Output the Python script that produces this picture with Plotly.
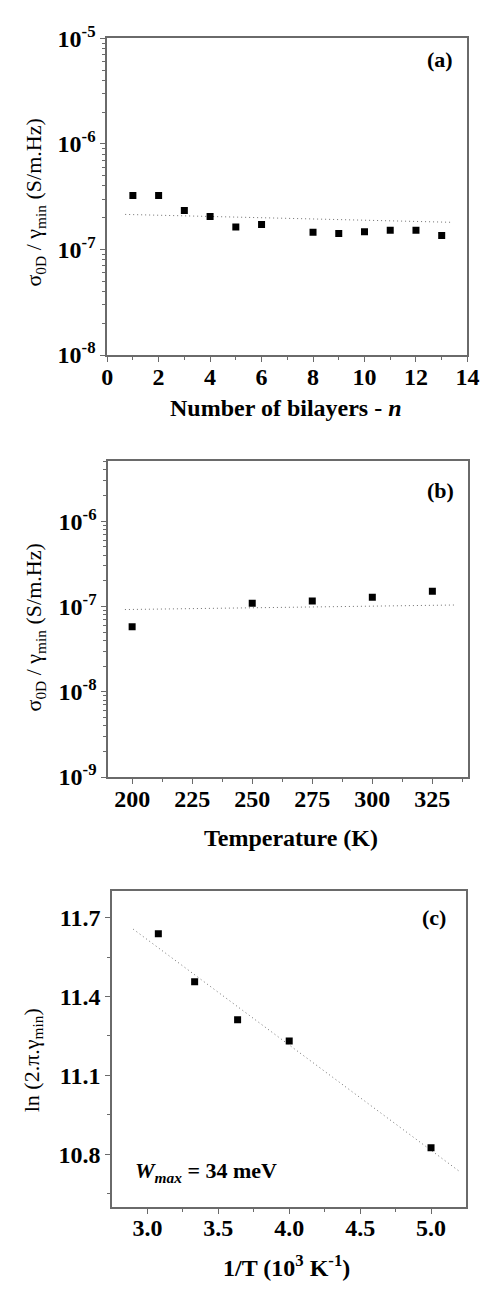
import plotly.graph_objects as go

W, H = 491, 1298
SERIF = "Liberation Serif"

# (a) sigma_0D / gamma_min versus number of bilayers
bilayers = [1, 2, 3, 4, 5, 6, 8, 9, 10, 11, 12, 13]
sigma_bilayers = [3.25e-7, 3.25e-7, 2.34e-7, 2.06e-7, 1.63e-7, 1.73e-7,
                  1.46e-7, 1.42e-7, 1.47e-7, 1.52e-7, 1.52e-7, 1.36e-7]
fit_a_x = [0.7, 13.4]
fit_a_y = [2.15e-7, 1.81e-7]

# (b) sigma_0D / gamma_min versus temperature
temperature = [200, 250, 275, 300, 325]
sigma_temperature = [5.8e-8, 1.09e-7, 1.16e-7, 1.28e-7, 1.51e-7]
fit_b_x = [197, 334.4]
fit_b_y = [9.2e-8, 1.04e-7]

# (c) Arrhenius plot of ln(2.pi.gamma_min)
inv_t = [3.077, 3.333, 3.636, 4.0, 5.0]
ln_gamma = [11.639, 11.456, 11.312, 11.231, 10.825]
fit_c_x = [2.90, 5.20]
fit_c_y = [11.656, 10.735]

log_major_a = [1e-8, 1e-7, 1e-6, 1e-5]
log_labels_a = ["10<sup>-8</sup>", "10<sup>-7</sup>", "10<sup>-6</sup>", "10<sup>-5</sup>"]
log_major_b = [1e-9, 1e-8, 1e-7, 1e-6]
log_labels_b = ["10<sup>-9</sup>", "10<sup>-8</sup>", "10<sup>-7</sup>", "10<sup>-6</sup>"]


def log_minor(lo_exp, hi_exp, top=None):
    vals = []
    for e in range(lo_exp, hi_exp):
        for m in range(2, 10):
            v = m * 10 ** e
            if top is None or v <= top:
                vals.append(v)
    return vals


def xdom(l, r):
    return [l / W, r / W]


def ydom(t, b):
    return [1 - b / H, 1 - t / H]


AX_COLOR = "#6a6a6a"
common = dict(
    showline=True, linecolor=AX_COLOR, linewidth=1.5, mirror=True,
    ticks="outside", ticklen=5, tickwidth=1.2, tickcolor=AX_COLOR,
    showgrid=False, zeroline=False,
    tickfont=dict(family=SERIF, size=24, color="black", weight="bold"),
)
xcommon = dict(common, ticklabelstandoff=-6)
minor_style = dict(ticks="outside", ticklen=3, tickwidth=1, tickcolor=AX_COLOR, showgrid=False)

marker = dict(symbol="square", size=7, color="black")
fit_line = dict(color="#707070", width=1, dash="1px,3px")

fig = go.Figure()

fig.add_trace(go.Scatter(x=fit_a_x, y=fit_a_y, mode="lines", line=fit_line, xaxis="x", yaxis="y"))
fig.add_trace(go.Scatter(x=bilayers, y=sigma_bilayers, mode="markers", marker=marker, xaxis="x", yaxis="y"))

fig.add_trace(go.Scatter(x=fit_b_x, y=fit_b_y, mode="lines", line=fit_line, xaxis="x2", yaxis="y2"))
fig.add_trace(go.Scatter(x=temperature, y=sigma_temperature, mode="markers", marker=marker, xaxis="x2", yaxis="y2"))

fig.add_trace(go.Scatter(x=fit_c_x, y=fit_c_y, mode="lines", line=fit_line, xaxis="x3", yaxis="y3"))
fig.add_trace(go.Scatter(x=inv_t, y=ln_gamma, mode="markers", marker=marker, xaxis="x3", yaxis="y3"))

fig.update_layout(
    width=W, height=H, margin=dict(l=0, r=0, t=0, b=0),
    paper_bgcolor="white", plot_bgcolor="white", showlegend=False,
    xaxis=dict(domain=xdom(105, 479), anchor="y", range=[0, 14], tickvals=list(range(0, 15, 2)),
               minor=dict(tickvals=list(range(1, 14, 2)), **minor_style), **xcommon),
    yaxis=dict(domain=ydom(22, 346), anchor="x", type="log", range=[-8, -5],
               tickvals=log_major_a, ticktext=log_labels_a,
               minor=dict(tickvals=log_minor(-8, -5), **minor_style), **common),
    xaxis2=dict(domain=xdom(106, 480), anchor="y2", range=[190, 340],
                tickvals=[200, 225, 250, 275, 300, 325],
                minor=dict(tickvals=[212.5, 237.5, 262.5, 287.5, 312.5, 337.5], **minor_style), **xcommon),
    yaxis2=dict(domain=ydom(455, 778), anchor="x2", type="log", range=[-9, -5.3],
                tickvals=log_major_b, ticktext=log_labels_b,
                minor=dict(tickvals=log_minor(-9, -5, top=5e-6), **minor_style), **common),
    xaxis3=dict(domain=xdom(110, 478), anchor="y3", range=[2.75, 5.25],
                tickvals=[3.0, 3.5, 4.0, 4.5, 5.0], ticktext=["3.0", "3.5", "4.0", "4.5", "5.0"],
                minor=dict(tickvals=[3.25, 3.75, 4.25, 4.75], **minor_style), **xcommon),
    yaxis3=dict(domain=ydom(895, 1218), anchor="x3", range=[10.6, 11.8],
                tickvals=[10.8, 11.1, 11.4, 11.7], ticktext=["10.8", "11.1", "11.4", "11.7"],
                minor=dict(tickvals=[10.65, 10.95, 11.25, 11.55], **minor_style), **common),
)

title_font = dict(family=SERIF, size=24, color="black", weight="bold")
tag_font = dict(family=SERIF, size=22, color="black", weight="bold")
plain_font = dict(family=SERIF, size=22, color="black")


def note(text, px, py, font, xanchor="center", angle=0):
    fig.add_annotation(text=text, x=px / W, y=1 - py / H, xref="paper", yref="paper",
                       xanchor=xanchor, yanchor="middle", showarrow=False,
                       textangle=angle, font=font)


# panel tags
note("(a)", 450, 43, tag_font)
note("(b)", 451, 485, tag_font)
note("(c)", 444, 922, tag_font)

# axis titles
note("Number of bilayers - <i>n</i>", 291, 400, title_font)
note("Temperature (K)", 296, 840, title_font)
note("1/T (10<sup>3</sup> K<sup>-1</sup>)", 291, 1279, title_font)

note("σ<sub>0D</sub> / γ<sub>min</sub> (S/m.Hz)", 30, 190, plain_font, angle=-90)
note("σ<sub>0D</sub> / γ<sub>min</sub> (S/m.Hz)", 30, 625, plain_font, angle=-90)
note("ln (2.π.γ<sub>min</sub>)", 28, 1068, plain_font, angle=-90)

note("<i>W</i><sub><i>max</i></sub> = 34 meV", 132, 1182, tag_font, xanchor="left")

fig.write_html("out.html")
